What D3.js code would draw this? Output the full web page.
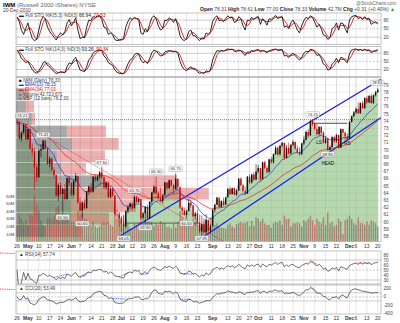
<!DOCTYPE html>
<html><head><meta charset="utf-8">
<script src="https://cdn.jsdelivr.net/npm/d3@7"></script>
<style>
body{margin:0;background:#fff}
svg{display:block}
text{font-family:"Liberation Sans","DejaVu Sans",sans-serif}
</style>
</head><body>
<svg id="c" width="400" height="323"></svg>
<script>
// IWM daily bars, 26-Apr-2010 .. 20-Dec-2010 (index = trading day)
const closes = [73.9,71.6,72.4,73.5,71.5,72.9,70.2,69.8,67.6,66.2,
69.9,70.1,71.3,70.2,68.1,68.8,67.2,66.5,63.7,65.1,
63.9,64.6,63.2,66.1,65.4,63.8,65.7,66.4,62.7,61.6,
62.7,61.9,64.2,64.9,64.2,66.3,65.8,66.3,66.9,66.2,
64.8,65.5,63.5,64.6,63.7,61.1,61.0,60.5,59.8,59.4,
61.5,62.1,62.6,61.9,63.5,62.8,63.2,60.6,61.2,62.1,
60.5,62.8,64.1,64.9,64.0,63.3,62.9,63.7,65.5,64.7,
65.8,65.1,64.6,66.0,64.9,62.0,61.6,61.0,61.5,62.7,
62.3,60.8,61.2,59.9,58.7,59.7,58.6,60.3,58.8,59.4,
61.7,62.4,63.4,62.1,62.9,62.4,63.4,64.6,63.9,64.7,
63.8,64.4,66.0,65.1,64.3,63.9,66.3,65.5,66.6,65.9,
67.0,67.5,65.9,68.3,67.5,66.9,68.7,68.3,69.4,70.3,
69.4,70.6,71.0,68.9,70.3,69.5,70.7,71.1,70.2,69.7,
69.4,70.9,71.4,72.5,72.0,74.0,73.6,72.9,72.2,73.2,
72.4,71.0,71.6,70.0,70.4,71.8,71.2,72.1,70.3,72.9,
72.4,71.9,71.5,73.9,74.7,75.2,75.7,75.1,76.5,75.8,
77.2,76.6,77.5,76.5,77.6,78.0,78.33];
const highs = [74.21,73.9,72.6,73.7,73.6,73.0,72.9,70.9,70.3,68.4,
70.1,70.8,71.41,71.3,70.3,69.1,69.0,67.6,66.6,65.4,
65.5,64.8,65.3,66.2,66.4,65.6,65.8,66.8,66.2,63.4,
62.9,63.2,64.3,65.1,65.4,66.4,66.6,66.5,67.1,67.60,
66.4,65.7,65.6,64.8,64.8,63.6,61.8,61.4,60.8,61.0,
61.6,62.3,62.7,62.6,63.70,63.6,63.4,62.9,61.4,62.2,
62.4,62.9,64.2,65.1,66.30,64.3,64.8,63.9,65.6,65.5,
65.9,65.9,65.2,66.70,66.0,63.9,62.2,62.0,61.7,63.2,
63.0,62.4,61.4,61.7,59.9,59.8,60.0,60.4,60.3,59.7,
61.8,62.5,63.5,63.0,63.0,63.4,63.5,64.7,64.9,64.8,
64.8,64.6,66.1,66.2,65.3,64.9,66.4,66.6,66.7,66.9,
68.0,67.9,67.3,68.4,68.5,67.8,68.8,69.0,69.5,70.6,
70.5,70.7,71.1,70.7,70.7,71.0,70.8,71.4,71.2,70.6,
70.4,71.0,71.9,72.7,72.9,74.2,74.25,73.8,73.6,73.3,
73.3,72.6,71.9,71.7,70.6,71.9,71.9,72.2,72.0,73.0,
72.9,72.5,72.3,74.0,74.8,75.4,75.9,76.6,76.6,76.8,
77.3,77.5,77.6,77.8,77.7,78.2,78.61];
const lows = [73.3,71.4,71.2,72.2,71.3,71.4,70.0,69.2,64.4,65.6,
67.9,69.0,70.0,70.0,67.9,67.6,67.0,66.0,63.5,62.9,
63.7,61.50,63.0,63.1,65.0,63.6,63.6,65.5,62.5,61.4,
60.60,61.7,62.0,63.8,64.0,64.1,65.6,65.7,66.0,66.0,
64.6,64.5,63.3,63.3,63.5,60.9,60.7,59.3,58.6,58.05,
59.2,61.2,61.8,61.6,62.2,62.6,62.6,60.4,60.2,59.90,
60.3,60.6,62.4,63.9,63.8,63.1,62.7,62.5,64.1,64.5,
64.6,64.9,63.9,64.5,64.6,61.8,61.0,60.9,60.50,61.6,
62.0,60.6,60.3,59.8,58.5,57.95,58.4,58.3,58.7,58.4,
59.9,61.3,62.4,61.9,62.0,62.2,62.4,63.8,63.7,63.8,
63.7,63.6,64.3,65.0,64.1,63.7,64.9,65.3,65.3,65.7,
65.8,66.7,65.7,66.3,67.3,66.7,67.1,68.1,68.1,69.3,
69.2,69.2,70.3,68.7,68.8,69.3,69.4,70.5,70.0,69.5,
69.2,69.3,70.6,71.3,71.7,72.0,73.3,72.7,72.0,72.0,
72.1,70.9,70.8,69.85,69.9,70.3,71.0,71.0,70.2,70.3,
72.3,71.3,71.4,71.6,73.8,74.5,75.0,75.0,75.0,75.7,
75.7,76.4,76.5,76.4,76.4,77.4,77.90];
// daily share volume, millions
const volumes = [22,35,30,24,28,22,36,33,62,48,
40,28,22,20,30,31,29,33,45,47,
25,40,33,30,24,26,26,24,40,36,
38,30,29,22,21,26,20,18,20,24,
25,24,26,22,20,40,30,38,32,34,
30,24,18,17,24,22,25,33,24,28,
26,26,26,20,24,22,27,24,24,19,
20,17,24,18,26,40,32,24,24,26,
20,30,26,24,35,34,30,36,24,32,
34,22,24,20,18,18,17,22,24,20,
18,23,24,26,24,25,26,20,27,21,
32,30,26,30,24,22,22,18,24,26,
25,28,22,34,30,30,20,24,24,25,
24,20,28,26,30,34,28,22,30,26,
24,32,22,38,24,26,20,22,30,26,
10,28,30,34,30,24,22,32,24,24,
22,26,22,28,26,24,20];

// Full stochastic %K lines (fast 5,3 and slow 14,3)
const stoFastK = [90,75,45,30,50,70,40,15,8,12,
45,78,92,85,55,40,30,20,10,25,
35,28,40,70,82,60,72,88,45,15,
20,18,55,80,78,92,90,94,96,82,
55,52,30,35,28,12,8,10,12,15,
55,75,88,82,90,85,80,35,30,50,
40,65,88,95,85,60,45,50,80,78,
88,82,72,85,60,25,12,8,15,40,
45,25,25,15,8,18,15,35,30,40,
75,88,95,78,80,75,85,95,88,90,
72,75,92,85,60,45,80,78,90,82,
90,92,65,85,78,62,85,82,90,96,
85,90,92,55,60,50,70,80,65,45,
35,60,78,90,85,95,90,72,55,65,
50,28,25,12,18,50,55,70,45,70,
68,50,35,80,92,95,96,85,90,82,
92,82,85,65,70.6,74.05,66.94];
const stoSlowK = [92,80,60,55,45,50,35,20,10,6,
15,28,45,50,35,30,20,12,5,8,
12,10,8,30,45,40,55,65,40,18,
15,12,30,55,65,80,88,90,92,90,
70,62,45,40,35,18,10,6,5,4,
20,40,55,60,75,80,78,55,45,50,
42,60,82,92,88,80,70,72,85,88,
90,88,85,88,80,50,30,20,15,25,
30,22,20,12,6,8,6,15,12,18,
55,75,90,88,90,88,92,96,94,95,
88,86,92,90,80,72,85,84,90,88,
92,94,85,90,88,82,90,92,94,96,
90,92,94,70,72,65,75,80,72,62,
55,65,80,88,85,95,93,85,72,75,
62,40,35,18,20,40,48,62,45,65,
62,52,45,78,92,95,96,90,94,90,
95,90,92,82,87.5,90.26,93.26];

// x-axis ticks (trading-day index and label)
const tickIdx = [0,5,10,15,20,25,29,34,39,44,48,53,58,63,68,73,78,83,90,97,102,107,111,117,122,127,132,137,142,147,153,156,161,166];
const tickLbl = ["26","May","10","17","24","Jun","7","14","21","28","Jul","12","19","26","Aug","9","16","23","Sep","13","20","27","Oct","11","18","25","Nov","8","15","22","Dec","6","13","20"];
const monthLbl = ["May","Jun","Jul","Aug","Sep","Oct","Nov","Dec"];

// volume-by-price: 12 price zones, up-volume and down-volume (millions)
const vbpUp   = [32,32,51,163,179,131,144,275,186,176,176,96];
const vbpDown = [10,26,10,125,150,154,80,240,432,208,122,115];

const priceTicks = d3.range(58,80);
const volTicks = [10,20,30,40,50,60];

// annotated highs/lows: [index, price, text, side, offset]
const priceNotes = [[0,74.21,"74.21","left",4],[12,71.41,"71.41","up",5],[21,61.50,"61.50","down",6],[30,60.60,"60.60","down",6],
  [39,67.60,"67.60","up",5],[49,58.05,"58.05","down",5],[54,63.70,"63.70","up",5],[59,59.90,"59.90","down",5],
  [64,66.30,"66.30","up",5],[73,66.70,"66.70","up",5],[78,60.50,"60.50","down",5],[85,57.95,"57.95","down",5],
  [136,74.25,"74.25","up",5],[143,69.85,"69.85","down",3.2],[166,78.61,"78.61","up",5]];
const patternNotes = [[139,"LS",7],[143,"HEAD",10],[152,"RS",4]];

// trend lines: [[i0,v0],[i1,v1]]
const channelLines = [[[47,58.0],[167.5,79.8]],[[86,58.0],[167.5,74.5]]];
const redTrend = [[0,74.21],[95,57.3]];
const neckline = [[136,73.7],[152,73.7]];
const supportLine = [[50,59.85],[84,59.85]];

const W=400,H=323,L=16,R=381;
const svg = d3.select("#c");
const x = d3.scaleLinear().domain([-0.5,167.5]).range([L,R]);
const n = closes.length;
const P = {
  s1:{t:13,b:44.5}, s2:{t:46.5,b:76.5}, m:{t:77.5,b:241.5}, r:{t:251,b:284}, c:{t:285,b:314}
};

// ---------- indicators ----------
function ema(arr,p){const k=2/(p+1);const o=[];arr.forEach((v,i)=>o.push(i?v*k+o[i-1]*(1-k):v));return o;}
function sma(arr,p){return arr.map((v,i)=>d3.mean(arr.slice(Math.max(0,i-p+1),i+1)));}
function rsi(p){
  const out=[50];let ag=0,al=0;
  for(let i=1;i<n;i++){const ch=closes[i]-closes[i-1];const g=Math.max(ch,0),l=Math.max(-ch,0);const m=Math.min(i,p);
    ag=(ag*(m-1)+g)/m; al=(al*(m-1)+l)/m; out.push(al===0?100:100-100/(1+ag/al));}
  return out;
}
function cci(p){
  const tp=closes.map((c,i)=>(c+highs[i]+lows[i])/3);
  return tp.map((v,i)=>{const s=tp.slice(Math.max(0,i-p+1),i+1);const m=d3.mean(s);const md=d3.mean(s,q=>Math.abs(q-m));return md?(v-m)/(0.015*md):0;});
}
const ema13=ema(closes,13), ema34=ema(closes,34);
const st1={k:stoFastK,d:sma(stoFastK,3)}, st2={k:stoSlowK,d:sma(stoSlowK,3)};
const rsiV=rsi(14), cciV=cci(20);

// ---------- helpers ----------
const defs=svg.append("defs");
Object.entries(P).forEach(([k,p])=>{defs.append("clipPath").attr("id","clip-"+k).append("rect").attr("x",L).attr("y",p.t).attr("width",R-L).attr("height",p.b-p.t);});

function frame(p){
  const g=svg.append("g");
  g.append("rect").attr("x",L).attr("y",p.t).attr("width",R-L).attr("height",p.b-p.t).attr("fill","#fff");
  g.selectAll("line.v").data(tickIdx).join("line").attr("x1",d=>x(d)).attr("x2",d=>x(d)).attr("y1",p.t).attr("y2",p.b)
    .attr("stroke","#d8d8d8").attr("stroke-width",0.6);
  return g;
}
function hlines(g,y,vals,dash){
  g.selectAll(null).data(vals).join("line").attr("x1",L).attr("x2",R).attr("y1",d=>y(d)).attr("y2",d=>y(d))
   .attr("stroke","#aaa").attr("stroke-width",0.6).attr("stroke-dasharray",d=>dash&&dash(d)?"2,1.5":null);
}
function border(p){svg.append("rect").attr("x",L).attr("y",p.t).attr("width",R-L).attr("height",p.b-p.t).attr("fill","none").attr("stroke","#9a9a9a").attr("stroke-width",0.6);}
function rightLabels(y,vals){
  svg.append("g").selectAll("text").data(vals).join("text").attr("x",R+2.5).attr("y",d=>y(d)+1.6).attr("font-size",4.6).attr("fill","#444").text(d=>d);
}
function lineOf(arr,y,color,w,clip){
  svg.append("path").datum(arr).attr("clip-path","url(#clip-"+clip+")").attr("fill","none").attr("stroke",color).attr("stroke-width",w)
   .attr("stroke-linejoin","round").attr("d",d3.line().x((d,i)=>x(i)).y(d=>y(d)));
}
function legend(xp,yp,parts,size){
  const t=svg.append("text").attr("x",xp).attr("y",yp).attr("font-size",size||5);
  parts.forEach(pt=>t.append("tspan").attr("fill",pt[1]||"#444").attr("font-weight",pt[2]||null).text(pt[0]));
  return t;
}
function axisLabels(yp){
  svg.append("g").selectAll("text").data(tickIdx).join("text").attr("x",d=>x(d)).attr("y",yp).attr("text-anchor","middle")
   .attr("font-size",5).attr("fill","#333").attr("font-weight",(d,i)=>monthLbl.includes(tickLbl[i])?"bold":null).text((d,i)=>tickLbl[i]);
}

// ---------- header ----------
legend(3,6.5,[["IWM","#000","bold"],[" (Russell 2000 iShares) NYSE","#666"]],6);
legend(3,12,[["20-Dec-2010","#444"]],4.8);
svg.append("text").attr("x",396).attr("y",4.5).attr("text-anchor","end").attr("font-size",4.6).attr("fill","#666").text("@StockCharts.com");
legend(200,11,[["Open ","#222","bold"],["78.31  ","#444"],["High ","#222","bold"],["78.61  ","#444"],["Low ","#222","bold"],["77.00  ","#444"],
  ["Close ","#222","bold"],["78.33  ","#444"],["Volume ","#222","bold"],["42.7M  ","#444"],["Chg ","#222","bold"],["+0.31 (+0.40%) ","#444"],["\u25B2","#1a9a1a"]],5);

// ---------- stochastic panels ----------
function stoPanel(p,key,st,lbl){
  const g=frame(p);
  const y=d3.scaleLinear().domain([0,100]).range([p.b-1.6,p.t+1.4]);
  hlines(g,y,[20,50,80],d=>d===50);
  lineOf(st.d,y,"#d40000",0.8,key);
  lineOf(st.k,y,"#111",0.9,key);
  border(p);
  rightLabels(y,[80,50,20]);
  legend(19,p.t+4,lbl,4.8);
}
stoPanel(P.s1,"s1",st1,[["\u25AC ","#222"],["Full STO %K(5,3) %D(3) ","#444"],["66.94, ","#222"],["70.53","#d40000"]]);
stoPanel(P.s2,"s2",st2,[["\u25AC ","#222"],["Full STO %K(14,3) %D(3) ","#444"],["93.26, ","#222"],["90.34","#d40000"]]);

// ---------- main price panel ----------
const pm=P.m;
const y=d3.scaleLinear().domain([57.3,80.05]).range([pm.b,pm.t]);
const vy=d3.scaleLinear().domain([0,10]).range([pm.b,pm.b-7.6]);
const gm=frame(pm);
gm.append("path").datum(closes).attr("clip-path","url(#clip-m)").attr("fill","#b6d8af")
  .attr("d",d3.area().x((d,i)=>x(i)).y0(pm.b).y1(d=>y(d)));
gm.selectAll(null).data(priceTicks).join("line").attr("x1",L).attr("x2",R).attr("y1",d=>y(d)).attr("y2",d=>y(d))
  .attr("stroke","rgba(110,110,110,0.22)").attr("stroke-width",0.5);
gm.selectAll(null).data(tickIdx).join("line").attr("x1",d=>x(d)).attr("x2",d=>x(d)).attr("y1",pm.t).attr("y2",pm.b)
  .attr("stroke","rgba(110,110,110,0.22)").attr("stroke-width",0.5);

// volume by price
const zoneLo=57.9, zoneHi=78.61, zoneH=(zoneHi-zoneLo)/vbpUp.length;
const vbx=d3.scaleLinear().domain([0,1000]).range([0,312]);
const gv=svg.append("g").attr("clip-path","url(#clip-m)");
vbpUp.forEach((u,k)=>{
  const top=zoneHi-k*zoneH, bot=top-zoneH;
  const y0=y(top)+0.4, h=y(bot)-y(top)-0.8;
  gv.append("rect").attr("x",L).attr("y",y0).attr("width",vbx(u)).attr("height",h).attr("fill","rgba(85,85,85,0.5)");
  gv.append("rect").attr("x",L+vbx(u)).attr("y",y0).attr("width",vbx(vbpDown[k])).attr("height",h).attr("fill","rgba(214,70,70,0.42)");
});

// volume bars
svg.append("g").attr("clip-path","url(#clip-m)").selectAll("rect").data(volumes).join("rect")
  .attr("x",(d,i)=>x(i)-0.7).attr("width",1.4).attr("y",d=>vy(d)).attr("height",d=>pm.b-vy(d))
  .attr("fill",(d,i)=>i>0&&closes[i]<closes[i-1]?"rgba(205,60,60,0.6)":"rgba(80,80,80,0.5)");

// reference lines
const gl=svg.append("g").attr("clip-path","url(#clip-m)");
gl.append("line").attr("x1",L).attr("x2",R).attr("y1",y(74.21)).attr("y2",y(74.21)).attr("stroke","#555").attr("stroke-width",0.7).attr("stroke-dasharray","1,1");
function drawSeg(s,color,w,dash){gl.append("line").attr("x1",x(s[0][0])).attr("y1",y(s[0][1])).attr("x2",x(s[1][0])).attr("y2",y(s[1][1])).attr("stroke",color).attr("stroke-width",w).attr("stroke-dasharray",dash||null);}
drawSeg(redTrend,"#e03030",0.7,"1.5,1");
drawSeg(supportLine,"#333",0.7);
drawSeg(neckline,"#222",0.8);

lineOf(ema34,y,"#e02020",0.7,"m");
lineOf(ema13,y,"#2233cc",0.7,"m");

// candles
const gc=svg.append("g").attr("clip-path","url(#clip-m)");
closes.forEach((c,i)=>{
  const o=i?closes[i-1]:c; const col=i&&c<o?"#d00000":"#111";
  gc.append("line").attr("x1",x(i)).attr("x2",x(i)).attr("y1",y(highs[i])).attr("y2",y(lows[i])).attr("stroke",col).attr("stroke-width",0.6);
  gc.append("rect").attr("x",x(i)-0.7).attr("width",1.4).attr("y",y(Math.max(o,c))).attr("height",Math.max(0.6,Math.abs(y(o)-y(c)))).attr("fill",col);
});

channelLines.forEach(s=>drawSeg(s,"#1a1aee",1.2));

// annotations
priceNotes.forEach(([i,v,t,side,off])=>{
  const w=t.length*2.3+2, h=5.2;
  let cx=x(i), cy=y(v);
  if(side==="up") cy-=off; else if(side==="down") cy=Math.min(cy+off,pm.b-3.2); else {cx=L+w/2-0.5; cy-=off;}
  cx=Math.min(cx,R-w/2+3);
  svg.append("rect").attr("x",cx-w/2).attr("y",cy-h/2).attr("width",w).attr("height",h).attr("rx",1)
    .attr("fill","rgba(255,255,255,0.85)").attr("stroke","#8a8a8a").attr("stroke-width",0.4);
  svg.append("text").attr("x",cx).attr("y",cy+1.6).attr("text-anchor","middle").attr("font-size",4.2).attr("fill","#333").text(t);
});
patternNotes.forEach(([i,t,off])=>{
  svg.append("text").attr("x",x(i)).attr("y",y(lows[i])+off+1.6+(t==="HEAD"?2:0)).attr("text-anchor","middle").attr("font-size",4.6).attr("fill","#111").text(t);
});

border(pm);
rightLabels(y,priceTicks);
svg.append("g").selectAll("text").data(volTicks).join("text").attr("x",14.5).attr("y",d=>vy(d)+1.6).attr("text-anchor","end")
  .attr("font-size",4.4).attr("fill","#444").text(d=>d+"M");
legend(19,pm.t+4.3,[["\u25A0 ","#111"],["IWM (Daily) 78.33","#444"]],4.6);
legend(19,pm.t+8.9,[["\u25AC ","#2233cc"],["EMA(13) 78.15","#2233cc"]],4.6);
legend(19,pm.t+13.5,[["\u25AC ","#e02020"],["EMA(34) 77.03","#e02020"]],4.6);
legend(19,pm.t+18.1,[["\u25A0 ","#777"],["Volume 42,723,671","#444"]],4.6);
legend(19,pm.t+22.7,[["\u25A0 ","#777"],["VBP (12 bars) 78.2,30","#444"]],4.6);
axisLabels(247.5);

// ---------- RSI ----------
const pr=P.r;
const gr=frame(pr);
const yr=d3.scaleLinear().domain([22,88]).range([pr.b,pr.t]);
hlines(gr,yr,[30,50,70],d=>d===50);
lineOf(rsiV,yr,"#333",0.7,"r");
const rsiBlue=[[17,23],[29,33],[47,51],[57,60],[76,81]];
const rsiRed=[[135,138],[157,163]];
rsiBlue.forEach(([a,b])=>svg.append("line").attr("x1",x(a)).attr("y1",yr(rsiV[a])).attr("x2",x(b)).attr("y2",yr(rsiV[b])).attr("stroke","#2233ee").attr("stroke-width",0.8).attr("stroke-dasharray","1,0.8"));
rsiRed.forEach(([a,b])=>svg.append("line").attr("x1",x(a)).attr("y1",yr(rsiV[a])-1.5).attr("x2",x(b)).attr("y2",yr(rsiV[b])-1.5).attr("stroke","#e02020").attr("stroke-width",0.8).attr("stroke-dasharray","1,0.8"));
border(pr);
rightLabels(yr,[80,70,60,50,40,30]);
legend(19,pr.t+5,[["\u25B2 ","#333"],["RSI(14) 57.74","#444"]],4.8);
svg.append("line").attr("x1",0).attr("x2",L-1).attr("y1",pr.t+2).attr("y2",pr.t+2.6).attr("stroke","#e02020").attr("stroke-width",0.8).attr("stroke-dasharray","1,0.8");

// ---------- CCI ----------
const pc=P.c;
const gcc=frame(pc);
const yc=d3.scaleLinear().domain([-420,290]).range([pc.b,pc.t]);
hlines(gcc,yc,[-100,0,100],d=>d===0);
lineOf(cciV,yc,"#333",0.7,"c");
const cciBlue=[[44,51],[75,80]];
const cciRed=[[135,138]];
cciBlue.forEach(([a,b])=>svg.append("line").attr("x1",x(a)).attr("y1",yc(cciV[a])).attr("x2",x(b)).attr("y2",yc(cciV[b])).attr("stroke","#2233ee").attr("stroke-width",0.8).attr("stroke-dasharray","1,0.8"));
cciRed.forEach(([a,b])=>svg.append("line").attr("x1",x(a)).attr("y1",yc(cciV[a])-1.5).attr("x2",x(b)).attr("y2",yc(cciV[b])-1.5).attr("stroke","#e02020").attr("stroke-width",0.8).attr("stroke-dasharray","1,0.8"));
border(pc);
rightLabels(yc,[200,0,-200,-400]);
legend(19,pc.t+5,[["\u25B2 ","#333"],["CCI(20) 53.49","#444"]],4.8);
svg.append("line").attr("x1",0).attr("x2",L-1).attr("y1",pc.t+4).attr("y2",pc.t+4.6).attr("stroke","#e02020").attr("stroke-width",0.8).attr("stroke-dasharray","1,0.8");
axisLabels(320);
</script>
</body></html>
